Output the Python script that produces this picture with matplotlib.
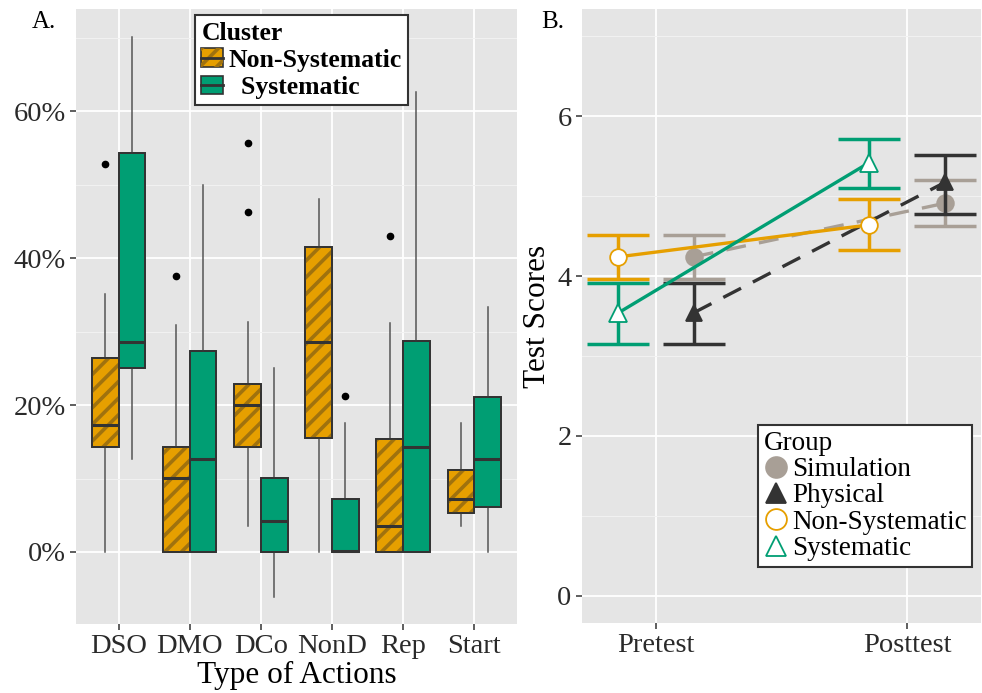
import numpy as np
import matplotlib
matplotlib.use('Agg')
import matplotlib.pyplot as plt
from matplotlib.patches import Patch, PathPatch
from matplotlib.lines import Line2D
from matplotlib.ticker import FuncFormatter

plt.rcParams['font.family'] = ['Liberation Serif', 'DejaVu Serif']
plt.rcParams['hatch.linewidth'] = 2.6

# ---- panel A data (percent) ----
actions = ['DSO', 'DMO', 'DCo', 'NonD', 'Rep', 'Start']

ns_lo = [0.0, 0.0, 3.5, 0.0, 0.0, 3.5]
ns_q1 = [14.3, 0.0, 14.3, 15.5, 0.0, 5.3]
ns_med = [17.3, 10.1, 20.0, 28.6, 3.5, 7.2]
ns_q3 = [26.4, 14.3, 22.9, 41.5, 15.4, 11.2]
ns_hi = [35.1, 30.9, 31.3, 48.0, 31.1, 17.6]
ns_out = [[52.8], [37.6], [55.6, 46.3], [], [43.0], []]

sy_lo = [12.7, 0.0, -6.1, 0.0, 0.0, 0.0]
sy_q1 = [25.0, 0.0, 0.0, 0.0, 0.0, 6.1]
sy_med = [28.6, 12.7, 4.2, 0.2, 14.3, 12.7]
sy_q3 = [54.3, 27.3, 10.1, 7.2, 28.7, 21.1]
sy_hi = [70.1, 50.0, 25.0, 17.6, 62.6, 33.3]
sy_out = [[], [], [], [21.2], [], []]

# ---- panel B data ----
groups = ['Simulation', 'Physical', 'Non-Systematic', 'Systematic']
phases = ['Pretest', 'Posttest']
mean_pre = [4.24, 3.54, 4.24, 3.54]
mean_post = [4.91, 5.17, 4.64, 5.42]
lo_pre = [3.96, 3.15, 3.96, 3.15]
hi_pre = [4.51, 3.91, 4.51, 3.91]
lo_post = [4.63, 4.78, 4.33, 5.10]
hi_post = [5.20, 5.51, 4.96, 5.72]

orange = '#E69F00'
green = '#009E73'
stripe = '#A0720E'
edge = '#333333'

fig = plt.figure(figsize=(9.82, 6.93), dpi=100)
axA = fig.add_axes([0.0774, 0.0996, 0.449, 0.8874])
axB = fig.add_axes([0.5927, 0.101, 0.4063, 0.886])


def gg(ax):
    ax.set_facecolor('#E5E5E5')
    for s in ax.spines.values():
        s.set_visible(False)
    ax.grid(True, which='major', color='white', lw=1.3)
    ax.grid(True, which='minor', axis='y', color='#F2F2F2', lw=0.7)
    ax.set_axisbelow(True)
    ax.tick_params(which='major', length=4, width=1.1, color=edge,
                   labelsize=20.5, labelcolor='#2a2a2a', pad=3.5)
    ax.tick_params(which='minor', length=0)


gg(axA)
gg(axB)

# ---- panel A ----
def stats(lo, q1, med, q3, hi, out):
    return [dict(whislo=a, q1=b, med=c, q3=d, whishi=e, fliers=f)
            for a, b, c, d, e, f in zip(lo, q1, med, q3, hi, out)]


pos = np.arange(1, len(actions) + 1)
for st, off, col, hatch in [(stats(ns_lo, ns_q1, ns_med, ns_q3, ns_hi, ns_out), -0.1875, orange, True),
                            (stats(sy_lo, sy_q1, sy_med, sy_q3, sy_hi, sy_out), 0.1875, green, False)]:
    res = axA.bxp(st, positions=pos + off, widths=0.375, patch_artist=True,
                  showcaps=False, manage_ticks=False,
                  boxprops=dict(facecolor=col, edgecolor=edge, linewidth=1.3),
                  medianprops=dict(color=edge, linewidth=2.2),
                  whiskerprops=dict(color='#555555', linewidth=1.1),
                  flierprops=dict(marker='o', markerfacecolor='black',
                                  markeredgecolor='black', markersize=4.5))
    for b in res['boxes']:
        if hatch:
            axA.add_patch(PathPatch(b.get_path(), facecolor='none', edgecolor=stripe,
                                    lw=0, hatch='//', zorder=2.1))
        axA.add_patch(PathPatch(b.get_path(), facecolor='none', edgecolor=edge,
                                lw=1.3, zorder=2.2))
    for m in res['medians']:
        m.set_zorder(2.3)

axA.set_xlim(0.4, 6.6)
axA.set_ylim(-9.8, 73.9)
axA.set_xticks(pos)
axA.set_xticklabels(actions)
axA.set_yticks([0, 20, 40, 60])
axA.set_yticks([10, 30, 50, 70], minor=True)
axA.yaxis.set_major_formatter(FuncFormatter(lambda v, p: f'{v:.0f}%'))
axA.set_xlabel('Type of Actions', fontsize=22.5, labelpad=1)

legA_handles = [
    (Patch(facecolor=orange, edgecolor=edge, lw=1.2),
     Patch(facecolor='none', edgecolor=stripe, lw=0, hatch='//'),
     Line2D([], [], color=edge, lw=2)),
    (Patch(facecolor=green, edgecolor=edge, lw=1.2),
     Line2D([], [], color=edge, lw=2)),
]
legA = axA.legend(legA_handles, ['Non-Systematic', '  Systematic'], title='Cluster',
                  loc='upper left', bbox_to_anchor=(0.27, 0.99), borderaxespad=0,
                  prop=dict(size=18.5, weight='bold'), title_fontproperties=dict(size=18.5, weight='bold'),
                  fancybox=False, edgecolor=edge, framealpha=1, alignment='left',
                  handlelength=0.85, handleheight=0.75, handletextpad=0.2,
                  labelspacing=0.15, borderpad=0.25)
legA.get_frame().set_linewidth(1.5)

# ---- panel B ----
colors = ['#A89F96', '#333333', orange, green]
styles = [(0, (6, 4)), (0, (6, 4)), '-', '-']
offsets = [0.15, 0.15, -0.15, -0.15]
markers = ['o', '^', 'o', '^']
mfaces = ['#A89F96', '#333333', 'white', 'white']
msizes = [12, 12, 12, 13]

xb = np.arange(1, len(phases) + 1)
for i, g in enumerate(groups):
    x = xb + offsets[i]
    m = np.array([mean_pre[i], mean_post[i]])
    lo = np.array([lo_pre[i], lo_post[i]])
    hi = np.array([hi_pre[i], hi_post[i]])
    axB.errorbar(x, m, yerr=[m - lo, hi - m], fmt='none', ecolor=colors[i],
                 elinewidth=2.5, capsize=22, capthick=2.5, zorder=3 + i)
    axB.plot(x, m, color=colors[i], lw=2.4, ls=styles[i], zorder=3 + i)
    axB.plot(x, m, ls='none', marker=markers[i], markersize=msizes[i],
             markerfacecolor=mfaces[i], markeredgecolor=colors[i],
             markeredgewidth=1.3, zorder=3.5 + i)

axB.set_xlim(0.705, 2.295)
axB.set_ylim(-0.34, 7.34)
axB.set_xticks(xb)
axB.set_xticklabels(phases)
axB.set_yticks([0, 2, 4, 6])
axB.set_yticks([1, 3, 5, 7], minor=True)
axB.set_ylabel('Test Scores', fontsize=22.5, labelpad=4)

legB_handles = [Line2D([], [], ls='none', marker=markers[i], markersize=15,
                       markerfacecolor=mfaces[i], markeredgecolor=colors[i],
                       markeredgewidth=1.3) for i in range(len(groups))]
legB = axB.legend(legB_handles, groups, title='Group', loc='upper left',
                  bbox_to_anchor=(0.441, 0.322), borderaxespad=0,
                  fontsize=19.5, title_fontsize=19.5, fancybox=False, edgecolor=edge,
                  framealpha=1, alignment='left', handlelength=0.9,
                  handletextpad=0.15, labelspacing=0.05, borderpad=0.2)
legB.get_frame().set_linewidth(1.5)

fig.text(0.045, 0.968, 'A.', fontsize=18, ha='center', va='center')
fig.text(0.563, 0.968, 'B.', fontsize=18, ha='center', va='center')

fig.savefig('out.png', dpi=100)
